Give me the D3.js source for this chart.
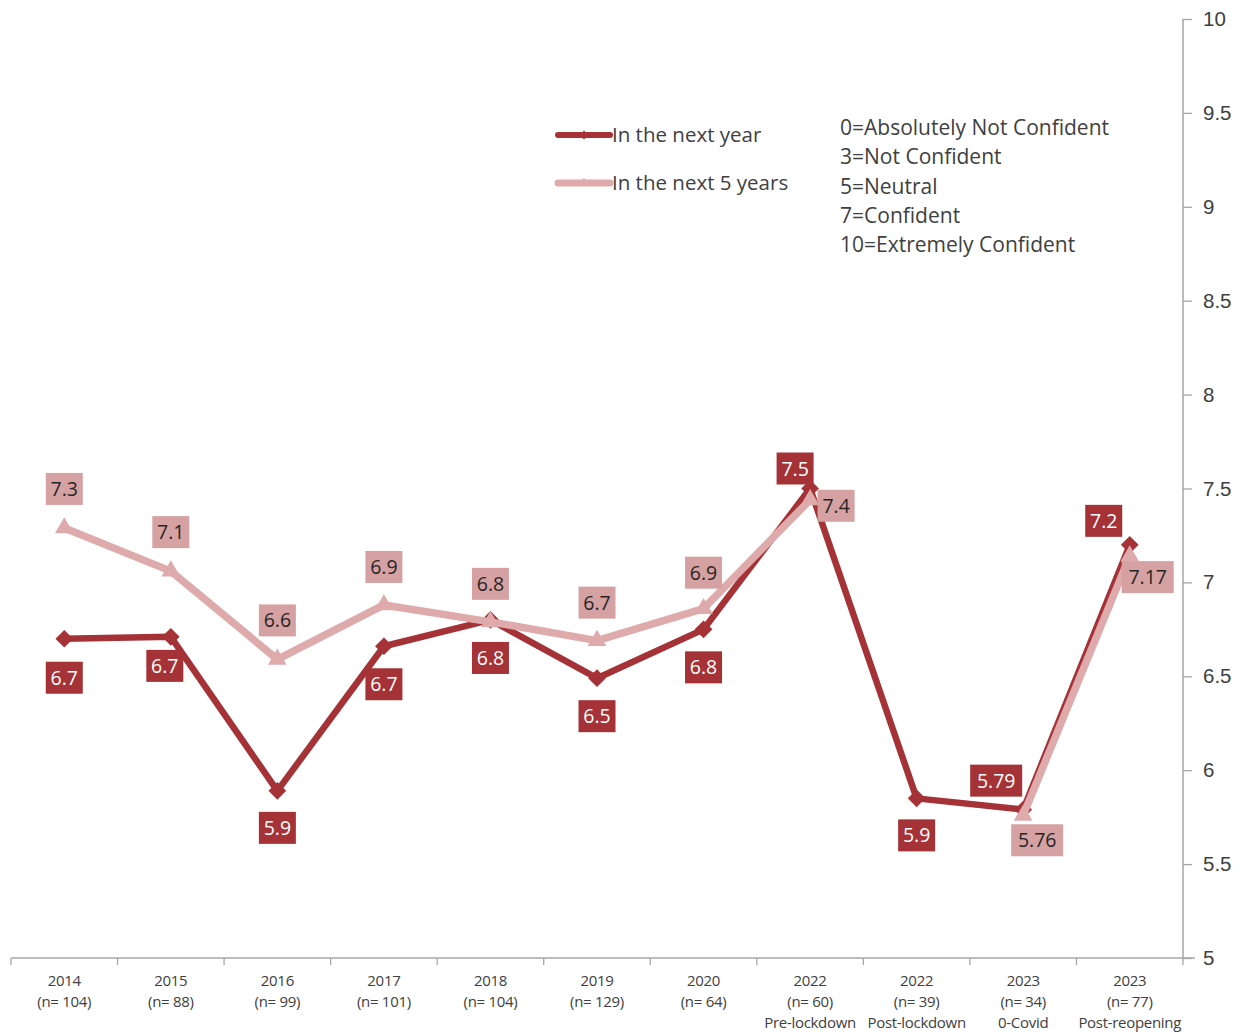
<!DOCTYPE html>
<html><head><meta charset="utf-8">
<script src="https://cdn.jsdelivr.net/npm/d3@7"></script>
<style>
body{margin:0;background:#fff;}
svg{display:block;font-family:"Open Sans","Noto Sans",sans-serif;}
</style></head>
<body><svg id="c" width="1245" height="1036"></svg>
<script>
const yearLabels = ["2014","2015","2016","2017","2018","2019","2020","2022","2022","2023","2023"];
const nLabels = ["(n= 104)","(n= 88)","(n= 99)","(n= 101)","(n= 104)","(n= 129)","(n= 64)","(n= 60)","(n= 39)","(n= 34)","(n= 77)"];
const phaseLabels = ["","","","","","","","Pre-lockdown","Post-lockdown","0-Covid","Post-reopening"];
const nextYear = [6.7, 6.71, 5.89, 6.66, 6.8, 6.49, 6.75, 7.5, 5.85, 5.79, 7.2];
const nextYearLabels = ["6.7","6.7","5.9","6.7","6.8","6.5","6.8","7.5","5.9","5.79","7.2"];
const next5 = [7.29, 7.06, 6.59, 6.88, 6.79, 6.69, 6.86, 7.44, null, 5.76, 7.14];
const next5Labels = ["7.3","7.1","6.6","6.9","6.8","6.7","6.9","7.4","","5.76","7.17"];
const yTicks = [5, 5.5, 6, 6.5, 7, 7.5, 8, 8.5, 9, 9.5, 10];
const scaleNotes = ["0=Absolutely Not Confident","3=Not Confident","5=Neutral","7=Confident","10=Extremely Confident"];
const seriesNames = ["In the next year","In the next 5 years"];

// label placement (dx, dy relative to point)
const darkPos = [[0,39],[-6,29],[0,37],[0,38],[0,38],[0,38],[0,38],[-15,-20],[0,37],[-27,-29],[-26,-24]];
const lightPos = [[0,-39],[0,-39],[0,-39],[0,-38],[0,-38],[0,-38],[0,-36],[26,6],[0,0],[14,25],[18,21]];

const DARK = "#a53236", LIGHT = "#deaaab", LIGHTBOX = "#d6a1a3";
const svg = d3.select("#c");
const idx = d3.range(yearLabels.length);
const x = d3.scaleBand().domain(idx).range([11, 1183]);
const cx = i => x(i) + x.bandwidth()/2;
const y = d3.scaleLinear().domain([5,10]).range([958,19]);

// right axis
const ya = svg.append("g").attr("transform","translate(1183,0)")
  .call(d3.axisRight(y).tickValues(yTicks).tickSize(9).tickFormat(d=>d3.format("")(d)));
ya.select(".domain").attr("stroke","#a6a6a6").attr("stroke-width",1.5).attr("d","M0,19V958");
ya.selectAll(".tick line").attr("stroke","#a6a6a6").attr("stroke-width",1.3);
ya.selectAll(".tick text").attr("x",20).attr("fill","#404040").style("font-size","20.5px");

// bottom axis
const xa = svg.append("g").attr("transform","translate(0,958)")
  .call(d3.axisBottom(x).tickSize(0).tickFormat(""));
xa.select(".domain").attr("stroke","#a6a6a6").attr("stroke-width",1.5).attr("d","M11,0H1195");
xa.selectAll(".tick line").remove();
svg.append("g").selectAll("line").data(d3.range(yearLabels.length+1)).join("line")
  .attr("x1",i=>11 + i*x.step()).attr("x2",i=>11 + i*x.step())
  .attr("y1",958).attr("y2",965).attr("stroke","#a6a6a6").attr("stroke-width",1.3);
const xl = svg.append("g").attr("fill","#404040").style("font-size","15px").attr("text-anchor","middle");
idx.forEach(i=>{
  const t = xl.append("text").attr("x",cx(i)).attr("y",986).style("letter-spacing","-0.3px");
  t.append("tspan").attr("x",cx(i)).attr("dy",0).text(yearLabels[i]);
  t.append("tspan").attr("x",cx(i)).attr("dy",21).text(nLabels[i]);
  if (phaseLabels[i]) t.append("tspan").attr("x",cx(i)).attr("dy",21).text(phaseLabels[i]);
});

// lines
const line = d3.line().defined(d=>d.v!=null).x(d=>cx(d.i)).y(d=>y(d.v));
const darkData = nextYear.map((v,i)=>({i,v}));
const lightData = next5.map((v,i)=>({i,v}));
svg.append("path").datum(darkData).attr("d",line).attr("fill","none").attr("stroke",DARK).attr("stroke-width",6.5).attr("stroke-linejoin","round");
svg.append("g").selectAll("path").data(darkData).join("path")
  .attr("transform",d=>`translate(${cx(d.i)},${y(d.v)})`)
  .attr("d",d3.symbol(d3.symbolDiamond2,200)).attr("fill",DARK);
svg.append("path").datum(lightData).attr("d",line).attr("fill","none").attr("stroke",LIGHT).attr("stroke-width",7.5).attr("stroke-linejoin","round");
svg.append("g").selectAll("path").data(lightData.filter(d=>d.v!=null)).join("path")
  .attr("transform",d=>`translate(${cx(d.i)},${y(d.v)})`)
  .attr("d",d3.symbol(d3.symbolTriangle2,250)).attr("fill",LIGHT);

// data labels
function labels(data, texts, pos, fill, tcolor){
  const g = svg.append("g");
  data.forEach((d,k)=>{
    if (d.v==null || !texts[k]) return;
    const px = cx(d.i)+pos[k][0], py = y(d.v)+pos[k][1];
    const w = texts[k].length>3 ? 52 : 37;
    g.append("rect").attr("x",px-w/2).attr("y",py-16).attr("width",w).attr("height",32).attr("fill",fill);
    g.append("text").attr("x",px).attr("y",py+7).attr("text-anchor","middle")
      .attr("fill",tcolor).style("font-size","19.5px").text(texts[k]);
  });
}
labels(darkData, nextYearLabels, darkPos, DARK, "#ffffff");
labels(lightData, next5Labels, lightPos, LIGHTBOX, "#262626");

// legend
const lg = svg.append("g");
[DARK, LIGHT].forEach((c,k)=>{
  const ly = 135 + k*48;
  lg.append("line").attr("x1",558).attr("x2",610).attr("y1",ly).attr("y2",ly).attr("stroke",c).attr("stroke-width",k?7:6).attr("stroke-linecap","round");
  lg.append("path").attr("transform",`translate(584,${ly})`).attr("d",d3.symbol(k?d3.symbolTriangle2:d3.symbolDiamond2,k?60:50)).attr("fill",c);
  lg.append("text").attr("x",612).attr("y",ly+7).attr("fill","#404040").style("font-size","20.5px").text(seriesNames[k]);
});
const ng = svg.append("g").attr("fill","#404040").style("font-size","21px");
scaleNotes.forEach((s,k)=>ng.append("text").attr("x",840).attr("y",135+k*29.3).text(s));
</script>
</body></html>
